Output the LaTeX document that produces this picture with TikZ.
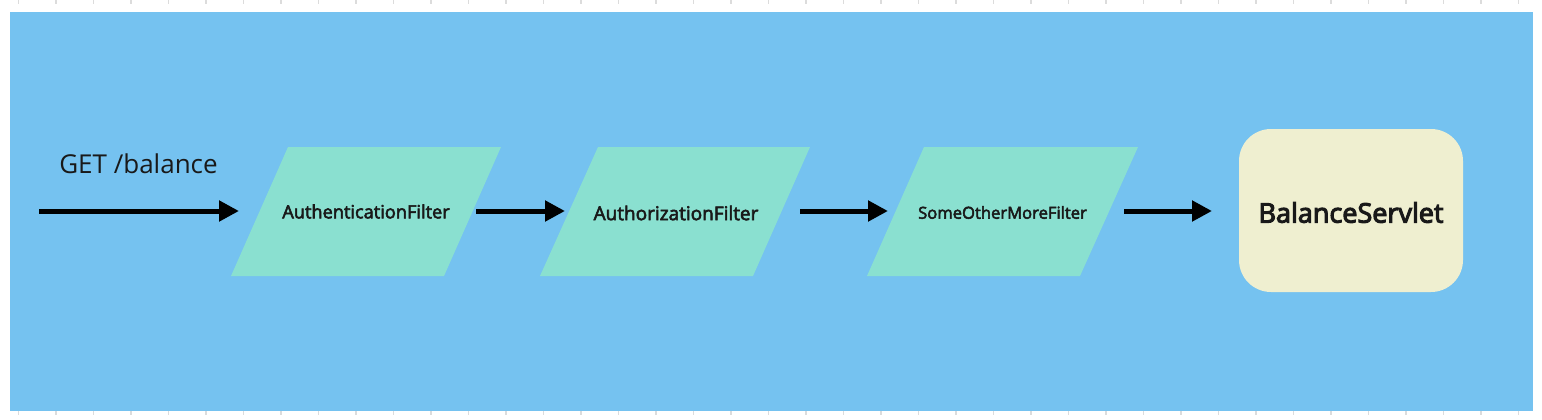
\documentclass[tikz,border=0pt]{standalone}
\usepackage{fontspec}
\setmainfont{Open Sans}
\newfontfamily\semib[FakeBold=3]{Open Sans}
\newfontfamily\semibb[FakeBold=4]{Open Sans}
\usetikzlibrary{arrows.meta}
\definecolor{bgblue}{HTML}{75C2F0}
\definecolor{filtgreen}{HTML}{8AE0D0}
\definecolor{servcream}{HTML}{EFEFD0}
\definecolor{tickgray}{HTML}{DCDCDC}
\begin{document}
\begin{tikzpicture}[x=1pt,y=-1pt,
  flow/.style={line width=5pt,-{Triangle[length=20pt,width=20pt]}},
  filt/.style={fill=filtgreen},
  lbl/.style={inner sep=0pt,text=black!90}]
\useasboundingbox (0,0) rectangle (1542,420);
\fill[white] (0,0) rectangle (1542,420);
\foreach \k in {0,...,40}{
  \draw[tickgray,line width=1.5pt] ({18.5+37.5*\k},0) -- ({18.5+37.5*\k},4);
  \draw[tickgray,line width=1.5pt] ({18.5+37.5*\k},411) -- ({18.5+37.5*\k},415);
}
\fill[bgblue] (10,12) rectangle (1533,411);
% filters
\fill[filt] (288,147) -- (501,147) -- (444,276) -- (231,276) -- cycle;
\fill[filt] (598,147) -- (810,147) -- (753,276) -- (540,276) -- cycle;
\fill[filt] (924,147) -- (1138,147) -- (1080,276) -- (867,276) -- cycle;
\fill[servcream, rounded corners=32pt] (1239,129) rectangle (1463,292);
% labels
\node[lbl,font=\fontsize{26}{30}\selectfont] (get) at (138.5,164) {GET /balance};
\node[lbl,font=\semib\fontsize{18.2}{22}\selectfont] (f1) at (366,211.5) {AuthenticationFilter};
\node[lbl,font=\semib\fontsize{19}{23}\selectfont] (f2) at (676,213) {AuthorizationFilter};
\node[lbl,font=\semib\fontsize{16.6}{20}\selectfont] (f3) at (1002.5,212.5) {SomeOtherMoreFilter};
\node[lbl,font=\semibb\fontsize{27}{32}\selectfont] (srv) at (1351,212.5) {BalanceServlet};
% connectors
\coordinate (a0) at (39,211);
\coordinate (a1) at (239,211);
\coordinate (b0) at (476,211);
\coordinate (b1) at (565,211);
\coordinate (c0) at (800,211);
\coordinate (c1) at (888,211);
\coordinate (d0) at (1124,211);
\coordinate (d1) at (1212,211);
\draw[flow] (a0) -- (a1);
\draw[flow] (b0) -- (b1);
\draw[flow] (c0) -- (c1);
\draw[flow] (d0) -- (d1);
\end{tikzpicture}
\end{document}
